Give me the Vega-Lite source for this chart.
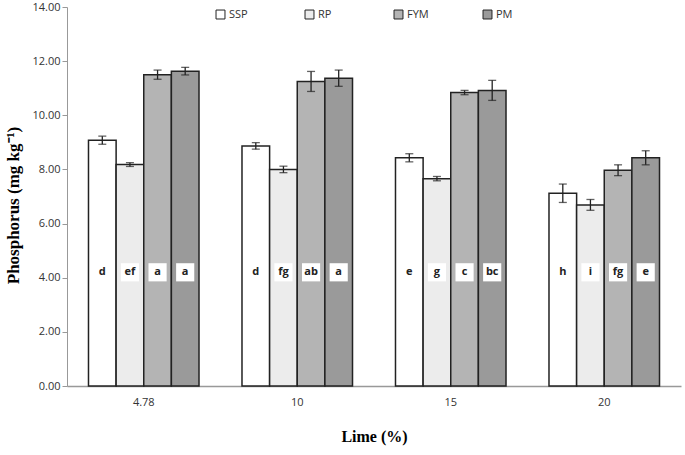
{
  "$schema": "https://vega.github.io/schema/vega-lite/v6.json",
  "autosize": "none",
  "width": 614,
  "height": 379,
  "padding": {"left": 67, "top": 7, "right": 4, "bottom": 69},
  "background": "white",
  "config": {"view": {"stroke": null}, "font": "Open Sans"},
  "data": {"values": [
    {"Lime": "4.78", "Source": "SSP", "P": 9.08, "se": 0.15, "letter": "d"},
    {"Lime": "4.78", "Source": "RP", "P": 8.18, "se": 0.07, "letter": "ef"},
    {"Lime": "4.78", "Source": "FYM", "P": 11.50, "se": 0.17, "letter": "a"},
    {"Lime": "4.78", "Source": "PM", "P": 11.63, "se": 0.14, "letter": "a"},
    {"Lime": "10", "Source": "SSP", "P": 8.87, "se": 0.12, "letter": "d"},
    {"Lime": "10", "Source": "RP", "P": 8.00, "se": 0.12, "letter": "fg"},
    {"Lime": "10", "Source": "FYM", "P": 11.25, "se": 0.37, "letter": "ab"},
    {"Lime": "10", "Source": "PM", "P": 11.37, "se": 0.30, "letter": "a"},
    {"Lime": "15", "Source": "SSP", "P": 8.43, "se": 0.15, "letter": "e"},
    {"Lime": "15", "Source": "RP", "P": 7.66, "se": 0.08, "letter": "g"},
    {"Lime": "15", "Source": "FYM", "P": 10.84, "se": 0.08, "letter": "c"},
    {"Lime": "15", "Source": "PM", "P": 10.92, "se": 0.37, "letter": "bc"},
    {"Lime": "20", "Source": "SSP", "P": 7.12, "se": 0.34, "letter": "h"},
    {"Lime": "20", "Source": "RP", "P": 6.69, "se": 0.20, "letter": "i"},
    {"Lime": "20", "Source": "FYM", "P": 7.97, "se": 0.20, "letter": "fg"},
    {"Lime": "20", "Source": "PM", "P": 8.43, "se": 0.26, "letter": "e"}
  ]},
  "encoding": {
    "x": {
      "field": "Lime", "type": "nominal", "sort": null,
      "scale": {"paddingInner": 0.28, "paddingOuter": 0.14},
      "axis": {
        "title": "Lime (%)", "titleFont": "Liberation Serif", "titleFontSize": 16, "titleFontWeight": "bold",
        "titleColor": "black", "titlePadding": 21,
        "labelAngle": 0, "labelFont": "Open Sans", "labelFontSize": 11, "labelColor": "#333", "labelPadding": 10,
        "ticks": false, "domainColor": "#999", "domainWidth": 1.5
      }
    },
    "xOffset": {"field": "Source", "type": "nominal", "sort": ["SSP", "RP", "FYM", "PM"], "scale": {"paddingInner": 0, "paddingOuter": 0}}
  },
  "layer": [
    {
      "mark": {"type": "bar", "stroke": "#222", "strokeWidth": 1.5},
      "encoding": {
        "y": {
          "field": "P", "type": "quantitative", "title": "Phosphorus  (mg kg\u207b\u00b9)",
          "scale": {"domain": [0, 14], "nice": false},
          "axis": {
            "title": "Phosphorus  (mg kg\u207b\u00b9)", "titleFont": "Liberation Serif", "titleFontSize": 17,
            "titleFontWeight": "bold", "titleColor": "black", "titlePadding": 9, "titleY": 198,
            "values": [0, 2, 4, 6, 8, 10, 12, 14], "format": ".2f", "grid": false,
            "labelFont": "Open Sans", "labelFontSize": 11, "labelColor": "#333",
            "domainColor": "#999", "tickColor": "#999", "tickSize": 5
          }
        },
        "fill": {
          "field": "Source", "type": "nominal", "sort": ["SSP", "RP", "FYM", "PM"],
          "scale": {"domain": ["SSP", "RP", "FYM", "PM"], "range": ["#ffffff", "#ececec", "#b4b4b4", "#9a9a9a"]},
          "legend": {
            "title": null, "orient": "none", "direction": "horizontal", "legendX": 148, "legendY": 2,
            "columns": 4, "gridAlign": "all", "columnPadding": 52,
            "symbolType": "square", "symbolSize": 80, "symbolStrokeColor": "#222", "symbolStrokeWidth": 1,
            "labelFont": "Open Sans", "labelFontSize": 11, "labelColor": "#333", "labelOffset": 3
          }
        }
      }
    },
    {
      "mark": {"type": "errorbar", "ticks": {"size": 8, "color": "#222", "thickness": 1.3}, "rule": {"color": "#222", "strokeWidth": 1.3}},
      "encoding": {
        "y": {"field": "P", "type": "quantitative", "title": "Phosphorus  (mg kg\u207b\u00b9)"},
        "yError": {"field": "se"}
      }
    },
    {
      "mark": {"type": "point", "shape": "square", "filled": true, "color": "white", "opacity": 1, "size": 330},
      "encoding": {"y": {"datum": 4.2}}
    },
    {
      "mark": {"type": "text", "font": "Open Sans", "fontWeight": "bold", "fontSize": 11, "color": "#222", "baseline": "middle"},
      "encoding": {"y": {"datum": 4.2}, "text": {"field": "letter"}}
    }
  ]
}
